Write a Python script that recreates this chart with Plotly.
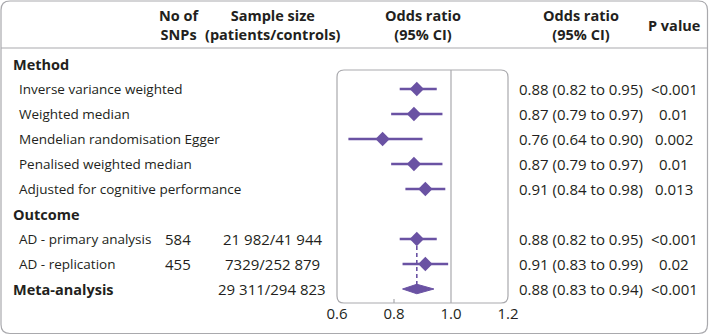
import plotly.graph_objects as go

W, H = 709, 335

# ---------------- data ----------------
method_labels = ["Inverse variance weighted", "Weighted median",
                 "Mendelian randomisation Egger", "Penalised weighted median",
                 "Adjusted for cognitive performance"]
method_or = [0.88, 0.87, 0.76, 0.87, 0.91]
method_lo = [0.82, 0.79, 0.64, 0.79, 0.84]
method_hi = [0.95, 0.97, 0.90, 0.97, 0.98]
method_p = ["<0.001", "0.01", "0.002", "0.01", "0.013"]

outcome_labels = ["AD - primary analysis", "AD - replication"]
outcome_snps = ["584", "455"]
outcome_sizes = ["21 982/41 944", "7329/252 879"]
outcome_or = [0.88, 0.91]
outcome_lo = [0.82, 0.83]
outcome_hi = [0.95, 0.99]
outcome_p = ["<0.001", "0.02"]

meta_label = "Meta-analysis"
meta_size = "29 311/294 823"
meta_or = [0.88]
meta_lo = [0.83]
meta_hi = [0.94]
meta_p = ["<0.001"]

x_ticks = [0.6, 0.8, 1.0, 1.2]
null_value = [1.0]

# ---------------- style ----------------
FONT = "Open Sans"
FS = 13.5       # row labels
FSB = 14.5      # bold headings
FSN = 15        # numbers
TXT = "#231f20"
PURPLE = "#6a52a3"
GRAY = "#a9a9ad"

ROW0, ROWH = 64, 25          # pixel y of row 0, row height
def px2row(y):
    return (y - ROW0) / ROWH

X0, X1 = 337, 508            # plot box pixel extent
Y0, Y1 = 70, 303

# rows
r_method = 0
r_methods = [1, 2, 3, 4, 5]
r_outcome = 6
r_outcomes = [7, 8]
r_meta = 9

fig = go.Figure()

fig.add_trace(go.Scatter(
    x=method_or, y=r_methods, mode="markers",
    marker=dict(symbol="diamond", size=11, color=PURPLE),
    error_x=dict(type="data", symmetric=False,
                 array=[h - o for h, o in zip(method_hi, method_or)],
                 arrayminus=[o - l for o, l in zip(method_or, method_lo)],
                 color=PURPLE, thickness=2.5, width=0),
    hoverinfo="skip", showlegend=False))

fig.add_trace(go.Scatter(
    x=[outcome_or[0], meta_or[0]], y=[r_outcomes[0], r_meta], mode="lines",
    line=dict(color=PURPLE, width=1.6, dash="4px,3px"),
    hoverinfo="skip", showlegend=False))

fig.add_trace(go.Scatter(
    x=outcome_or, y=r_outcomes, mode="markers",
    marker=dict(symbol="diamond", size=11, color=PURPLE),
    error_x=dict(type="data", symmetric=False,
                 array=[h - o for h, o in zip(outcome_hi, outcome_or)],
                 arrayminus=[o - l for o, l in zip(outcome_or, outcome_lo)],
                 color=PURPLE, thickness=2.5, width=0),
    hoverinfo="skip", showlegend=False))

dh = 0.19
fig.add_trace(go.Scatter(
    x=[meta_lo[0], meta_or[0], meta_hi[0], meta_or[0], meta_lo[0]],
    y=[r_meta, r_meta - dh, r_meta, r_meta + dh, r_meta],
    mode="lines", fill="toself", fillcolor=PURPLE,
    line=dict(color=PURPLE, width=1),
    hoverinfo="skip", showlegend=False))

# ---------------- shapes ----------------
def rrect(x0, y0, x1, y1, r):
    def P(x, y):
        return f"{x / W:.5f},{1 - y / H:.5f}"
    return (f"M {P(x0 + r, y0)} L {P(x1 - r, y0)} Q {P(x1, y0)} {P(x1, y0 + r)} "
            f"L {P(x1, y1 - r)} Q {P(x1, y1)} {P(x1 - r, y1)} "
            f"L {P(x0 + r, y1)} Q {P(x0, y1)} {P(x0, y1 - r)} "
            f"L {P(x0, y0 + r)} Q {P(x0, y0)} {P(x0 + r, y0)} Z")

shapes = [
    dict(type="path", xref="paper", yref="paper", path=rrect(1, 1, 707.5, 333.5, 9),
         line=dict(color=GRAY, width=1.2)),
    dict(type="line", xref="paper", yref="paper", x0=1 / W, x1=707.5 / W,
         y0=1 - 48 / H, y1=1 - 48 / H, line=dict(color=GRAY, width=1.2)),
    dict(type="path", xref="paper", yref="paper", path=rrect(X0, Y0, X1, Y1, 7),
         line=dict(color=GRAY, width=1.2)),
    dict(type="line", xref="x", yref="paper", x0=null_value[0], x1=null_value[0],
         y0=1 - Y1 / H, y1=1 - Y0 / H, line=dict(color=GRAY, width=1.2)),
]
for t in x_ticks[1:2]:
    shapes.append(dict(type="line", xref="x", yref="paper", x0=t, x1=t,
                       y0=1 - Y1 / H, y1=1 - (Y1 - 4) / H,
                       line=dict(color=GRAY, width=1.2)))

# ---------------- text ----------------
ann = []
def txt(xpx, row, s, anchor="left", bold=False, size=FS):
    ann.append(dict(xref="paper", yref="y", x=xpx / W, y=row, text=f"<b>{s}</b>" if bold else s,
                    xanchor=anchor, yanchor="middle", showarrow=False,
                    font=dict(family=FONT, size=size, color=TXT)))

hdr_row = px2row(25)
txt(179, hdr_row, "No of<br>SNPs", "center", True, FSB)
txt(273, hdr_row, "Sample size<br>(patients/controls)", "center", True, FSB)
txt((X0 + X1) / 2, hdr_row, "Odds ratio<br>(95% CI)", "center", True, FSB)
txt(581, hdr_row, "Odds ratio<br>(95% CI)", "center", True, FSB)
txt(674, hdr_row, "P value", "center", True, FSB)

LX_B, LX = 11, 17
txt(LX_B, r_method, "Method", True, FSB) if False else txt(LX_B, r_method, "Method", "left", True, FSB)
for r, lab, o, lo, hi, p in zip(r_methods, method_labels, method_or, method_lo, method_hi, method_p):
    txt(LX, r, lab)
    txt(581, r, f"{o:.2f} ({lo:.2f} to {hi:.2f})", "center", size=FSN)
    txt(674, r, p, "center", size=FSN)

txt(LX_B, r_outcome, "Outcome", "left", True, FSB)
for r, lab, n, s, o, lo, hi, p in zip(r_outcomes, outcome_labels, outcome_snps, outcome_sizes,
                                       outcome_or, outcome_lo, outcome_hi, outcome_p):
    txt(LX, r, lab)
    txt(178, r, n, "center", size=FSN)
    txt(272, r, s, "center", size=FSN)
    txt(581, r, f"{o:.2f} ({lo:.2f} to {hi:.2f})", "center", size=FSN)
    txt(674, r, p, "center", size=FSN)

txt(LX_B, r_meta, meta_label, "left", True, FSB)
txt(272, r_meta, meta_size, "center", size=FSN)
txt(581, r_meta, f"{meta_or[0]:.2f} ({meta_lo[0]:.2f} to {meta_hi[0]:.2f})", "center", size=FSN)
txt(674, r_meta, meta_p[0], "center", size=FSN)

fig.update_layout(
    width=W, height=H, margin=dict(l=0, r=0, t=0, b=0, pad=0, autoexpand=False),
    autosize=False,
    paper_bgcolor="white", plot_bgcolor="rgba(0,0,0,0)",
    shapes=shapes, annotations=ann,
    xaxis=dict(domain=[X0 / W, X1 / W], range=[0.6, 1.2], anchor="free",
               position=1 - Y1 / H, tickvals=x_ticks, automargin=False,
               ticktext=[f"{t:.1f}" for t in x_ticks], ticks="", showgrid=False,
               zeroline=False, showline=False,
               tickfont=dict(family=FONT, size=FSN, color=TXT)),
    yaxis=dict(domain=[0, 1], range=[px2row(H), px2row(0)], visible=False,
               automargin=False, showgrid=False, zeroline=False),
)

fig.write_html("out.html", config={"displayModeBar": False, "responsive": False},
               post_script="document.body.style.margin='0';document.body.style.overflow='hidden';")
